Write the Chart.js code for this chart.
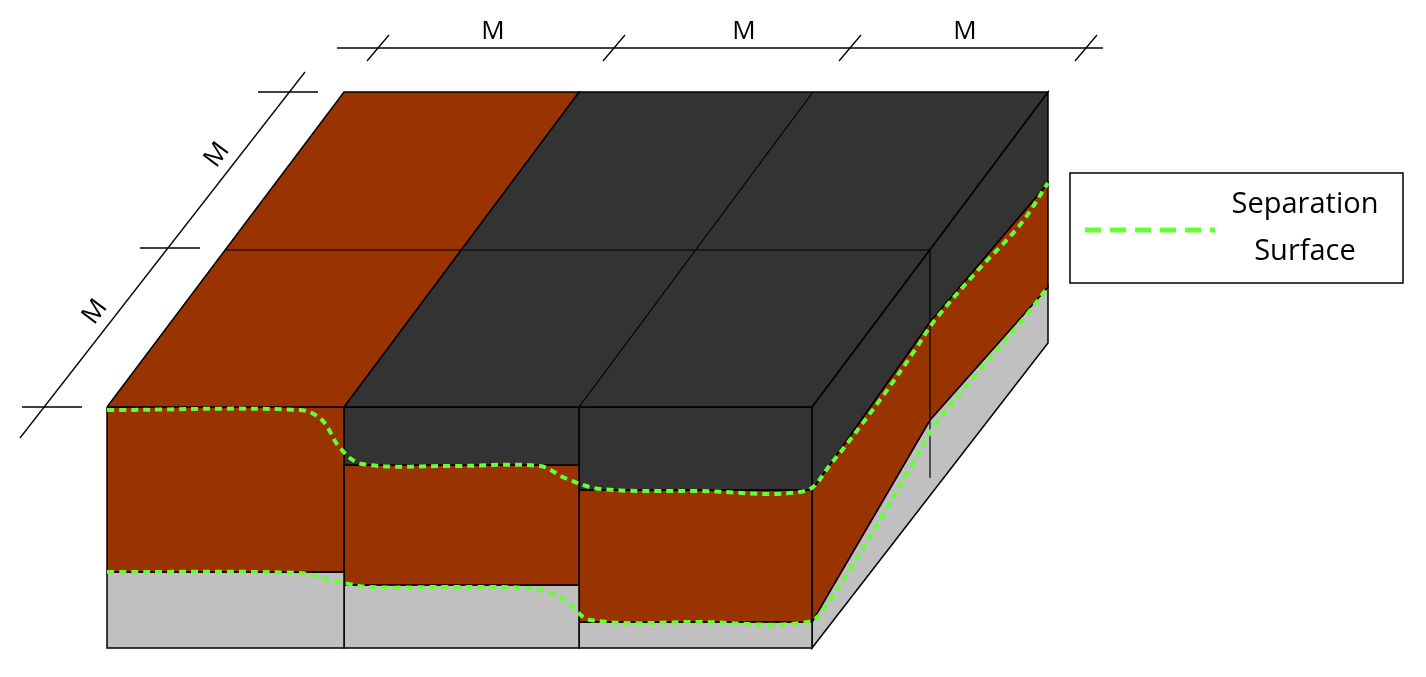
<!DOCTYPE html>
<html>
<head>
<meta charset="utf-8">
<script src="https://cdn.jsdelivr.net/npm/chart.js@4"></script>
<style>
  html, body { margin: 0; padding: 0; background: #fff; }
  #wrap { width: 1426px; height: 677px; }
</style>
</head>
<body>
<div id="wrap"><canvas id="diagram"></canvas></div>
<script>
// diagram outline points, in picture units (x right, y down)
const topBrown = [[107,407],[344,407],[579,92],[344,92],[107,407]];
const topDark = [[344,407],[812,407],[1048,92],[579,92],[344,407]];
const col1Brown = [[107,407],[344,407],[344,572],[107,572],[107,407]];
const col1Grey = [[107,572],[344,572],[344,648],[107,648],[107,572]];
const col2Dark = [[344,407],[579,407],[579,465],[344,465],[344,407]];
const col2Brown = [[344,465],[579,465],[579,585],[344,585],[344,465]];
const col2Grey = [[344,585],[579,585],[579,648],[344,648],[344,585]];
const col3Dark = [[579,407],[812,407],[812,490],[579,490],[579,407]];
const col3Brown = [[579,490],[812,490],[812,622],[579,622],[579,490]];
const col3Grey = [[579,622],[812,622],[812,648],[579,648],[579,622]];
const sideDark = [[812,407],[1048,92],[1048,183],[930,322],[812,490],[812,407]];
const sideBrown = [[812,490],[930,322],[1048,183],[1048,287],[930,420],[812,622],[812,490]];
const sideGrey = [[812,622],[930,420],[1048,287],[1048,343],[812,648],[812,622]];

const gridLines = [
  [[226,250],[930,250]],
  [[579,407],[813,92]],
  [[930,250],[930,478]]
];

const sepUpper = [[107,410],[300,410],[322,420],[340,448],[362,464],[450,466],[540,466],[565,478],[600,489],[700,491],[805,491],
  [830,465],[880,400],[915,350],[935,320],[980,268],[1020,225],[1048,183]];
const sepLower = [[107,572],[300,573],[330,580],[370,587],[450,587],[535,589],[565,600],[590,620],[700,622],[808,622],
  [830,600],[880,520],[915,460],[935,425],[980,370],[1020,323],[1048,287]];

const dimTop = [[337,48],[1103,48]];
const dimTopTicks = [378,614,850,1086];
const dimLeft = [[20,438],[305,72]];
const dimLeftTicks = [[22,82,407],[140,200,248],[258,318,92]];
const dimLabelsTop = [[493,'M'],[744,'M'],[965,'M']];
const dimLabelsLeft = [[95,312,'M'],[217,155,'M']];
const legendLabel = ['Separation', 'Surface'];

const BROWN = '#993300', DARK = '#333333', GREY = '#c0c0c0', GREEN = '#66ff33';

function pts(list) { return list.map(p => ({x: p[0], y: p[1]})); }
function face(list, color) {
  return { data: pts(list), showLine: true, fill: 'shape', backgroundColor: color,
    borderColor: '#000', borderWidth: 1.5, pointRadius: 0, tension: 0, order: 10 };
}
function line(list, color, width, order) {
  return { data: pts(list), showLine: true, fill: false, borderColor: color,
    borderWidth: width, pointRadius: 0, tension: 0, order: order };
}

const datasets = [
  face(topBrown, BROWN), face(topDark, DARK),
  face(col1Brown, BROWN), face(col1Grey, GREY),
  face(col2Dark, DARK), face(col2Brown, BROWN), face(col2Grey, GREY),
  face(col3Dark, DARK), face(col3Brown, BROWN), face(col3Grey, GREY),
  face(sideDark, DARK), face(sideBrown, BROWN), face(sideGrey, GREY)
];
gridLines.forEach(g => datasets.push(line(g, '#000', 1.2, 5)));
[sepUpper, sepLower].forEach(s => {
  const d = line(s, GREEN, 4, 1);
  d.borderDash = [7, 5];
  d.tension = 0.35;
  datasets.push(d);
});
datasets.push(line(dimTop, '#000', 1.3, 2));
dimTopTicks.forEach(x => datasets.push(line([[x - 11, 61], [x + 11, 35]], '#000', 1.3, 2)));
datasets.push(line(dimLeft, '#000', 1.3, 2));
dimLeftTicks.forEach(t => datasets.push(line([[t[0], t[2]], [t[1], t[2]]], '#000', 1.3, 2)));

const textPlugin = {
  id: 'texts',
  afterDatasetsDraw(chart) {
    const ctx = chart.ctx, sx = chart.scales.x, sy = chart.scales.y;
    ctx.save();
    ctx.fillStyle = '#000';
    ctx.font = '26px "Open Sans", sans-serif';
    ctx.textAlign = 'center';
    ctx.textBaseline = 'middle';
    dimLabelsTop.forEach(l => ctx.fillText(l[1], sx.getPixelForValue(l[0]), sy.getPixelForValue(32)));
    dimLabelsLeft.forEach(l => {
      ctx.save();
      ctx.translate(sx.getPixelForValue(l[0]), sy.getPixelForValue(l[1]));
      ctx.rotate(-53 * Math.PI / 180);
      ctx.fillText(l[2], 0, 0);
      ctx.restore();
    });
    // legend box
    const x0 = sx.getPixelForValue(1070), y0 = sy.getPixelForValue(173);
    const x1 = sx.getPixelForValue(1403), y1 = sy.getPixelForValue(283);
    ctx.strokeStyle = '#000';
    ctx.lineWidth = 1.5;
    ctx.strokeRect(x0, y0, x1 - x0, y1 - y0);
    ctx.strokeStyle = GREEN;
    ctx.lineWidth = 5;
    ctx.setLineDash([16, 9]);
    ctx.beginPath();
    ctx.moveTo(sx.getPixelForValue(1085), sy.getPixelForValue(230));
    ctx.lineTo(sx.getPixelForValue(1215), sy.getPixelForValue(230));
    ctx.stroke();
    ctx.setLineDash([]);
    ctx.font = '29px "Open Sans", sans-serif';
    ctx.fillText(legendLabel[0], sx.getPixelForValue(1305), sy.getPixelForValue(205));
    ctx.fillText(legendLabel[1], sx.getPixelForValue(1305), sy.getPixelForValue(252));
    ctx.restore();
  }
};

new Chart(document.getElementById('diagram'), {
  type: 'scatter',
  data: { datasets: datasets },
  options: {
    responsive: true,
    maintainAspectRatio: false,
    animation: false,
    layout: { padding: 0 },
    plugins: { legend: { display: false }, tooltip: { enabled: false } },
    scales: {
      x: { type: 'linear', min: 0, max: 1426, display: false },
      y: { type: 'linear', min: 0, max: 677, reverse: true, display: false }
    }
  },
  plugins: [textPlugin]
});
</script>
</body>
</html>
